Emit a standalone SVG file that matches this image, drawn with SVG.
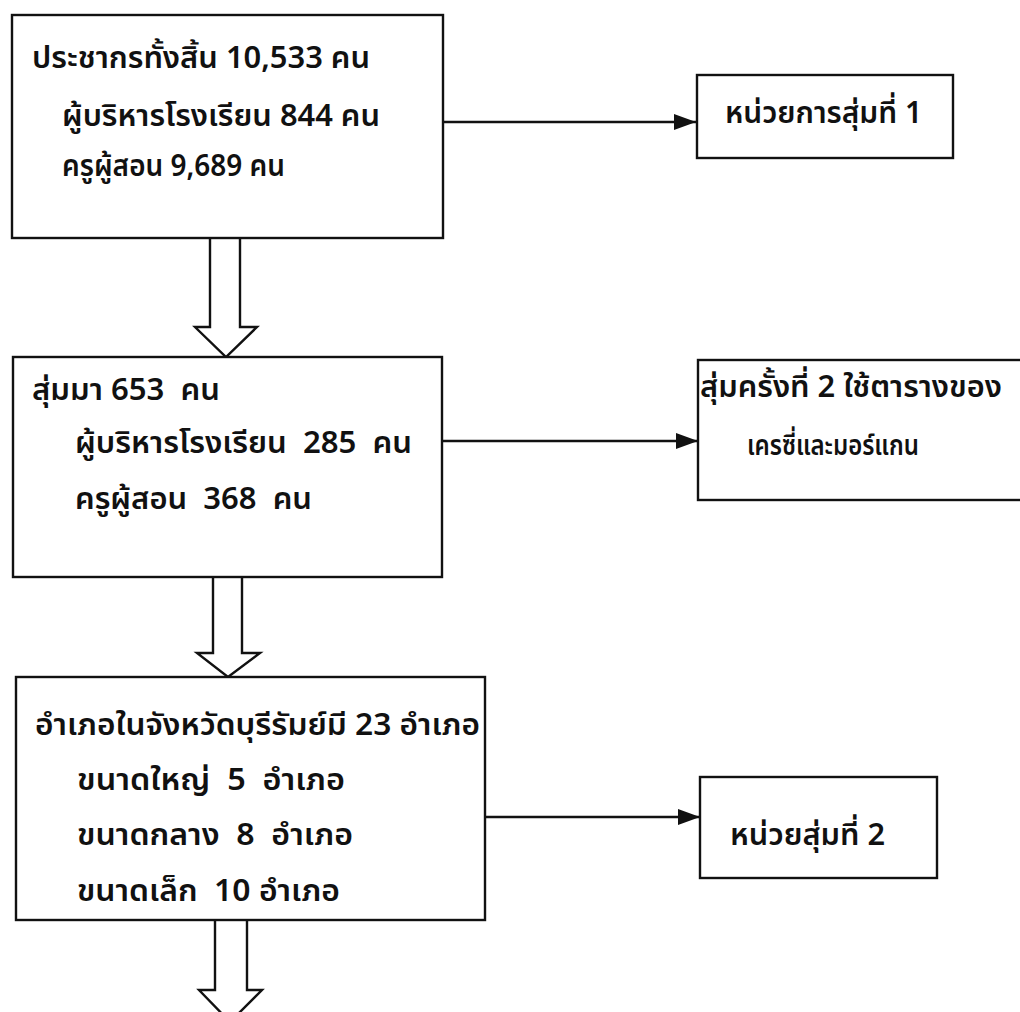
<svg xmlns="http://www.w3.org/2000/svg" width="1020" height="1012" viewBox="0 0 1020 1012">
<style>
.box{fill:#fff;stroke:#111;stroke-width:2.4}
.t{font-family:"Noto Sans Thai","Noto Sans","Liberation Sans",sans-serif;font-size:30px;font-weight:600;fill:#111;white-space:pre}
.s{font-size:28px}
.ln{stroke:#111;stroke-width:2.4;fill:none}
.hol{fill:#fff;stroke:#111;stroke-width:2.4;stroke-linejoin:miter}
</style>
<defs>
<marker id="ah" markerWidth="22" markerHeight="16" viewBox="0 0 22 16" refX="22" refY="8" orient="auto" markerUnits="userSpaceOnUse">
<path d="M0,0 L22,8 L0,16 Z" fill="#111"/>
</marker>
</defs>
<rect width="1020" height="1012" fill="#fff"/>
<g id="connectors">
<line class="ln" x1="443" y1="122" x2="696" y2="122" marker-end="url(#ah)"/>
<line class="ln" x1="442" y1="441" x2="698" y2="441" marker-end="url(#ah)"/>
<line class="ln" x1="485" y1="817" x2="700" y2="817" marker-end="url(#ah)"/>
<path class="hol" d="M210,238 L210,327 L195,327 L226,357 L257,327 L240,327 L240,238"/>
<path class="hol" d="M213,577 L213,653 L197,653 L228,677 L260,653 L242,653 L242,577"/>
<path class="hol" d="M215,920 L215,990 L199,990 L230,1022 L262,990 L247,990 L247,920"/>
</g>
<g id="node1">
<rect class="box" x="12" y="15" width="431" height="223"/>
<text class="t" x="32" y="68" textLength="338" lengthAdjust="spacingAndGlyphs">ประชากรทั้งสิ้น 10,533 คน</text>
<text class="t" x="62" y="126" textLength="318" lengthAdjust="spacingAndGlyphs">ผู้บริหารโรงเรียน 844 คน</text>
<text class="t" x="62" y="176" textLength="223" lengthAdjust="spacingAndGlyphs">ครูผู้สอน 9,689 คน</text>
</g>
<g id="node2">
<rect class="box" x="697" y="75" width="256" height="83"/>
<text class="t" x="725" y="123" textLength="197" lengthAdjust="spacingAndGlyphs">หน่วยการสุ่มที่ 1</text>
</g>
<g id="node3">
<rect class="box" x="13" y="357" width="429" height="220"/>
<text class="t" x="32" y="400" textLength="188" lengthAdjust="spacingAndGlyphs">สุ่มมา 653  คน</text>
<text class="t" x="75" y="453" textLength="337" lengthAdjust="spacingAndGlyphs">ผู้บริหารโรงเรียน  285  คน</text>
<text class="t" x="75" y="509" textLength="237" lengthAdjust="spacingAndGlyphs">ครูผู้สอน  368  คน</text>
</g>
<g id="node4">
<rect class="box" x="698" y="360" width="340" height="140"/>
<text class="t" x="700" y="397" textLength="302" lengthAdjust="spacingAndGlyphs">สุ่มครั้งที่ 2 ใช้ตารางของ</text>
<text class="t s" x="747" y="455" textLength="172" lengthAdjust="spacingAndGlyphs">เครซี่และมอร์แกน</text>
</g>
<g id="node5">
<rect class="box" x="16" y="677" width="469" height="243"/>
<text class="t" x="35" y="735" textLength="445" lengthAdjust="spacingAndGlyphs">อำเภอในจังหวัดบุรีรัมย์มี 23 อำเภอ</text>
<text class="t" x="77" y="790" textLength="268" lengthAdjust="spacingAndGlyphs">ขนาดใหญ่  5  อำเภอ</text>
<text class="t" x="77" y="845" textLength="276" lengthAdjust="spacingAndGlyphs">ขนาดกลาง  8  อำเภอ</text>
<text class="t" x="77" y="901" textLength="263" lengthAdjust="spacingAndGlyphs">ขนาดเล็ก  10 อำเภอ</text>
</g>
<g id="node6">
<rect class="box" x="700" y="777" width="237" height="101"/>
<text class="t" x="730" y="845" textLength="155" lengthAdjust="spacingAndGlyphs">หน่วยสุ่มที่ 2</text>
</g>
</svg>
